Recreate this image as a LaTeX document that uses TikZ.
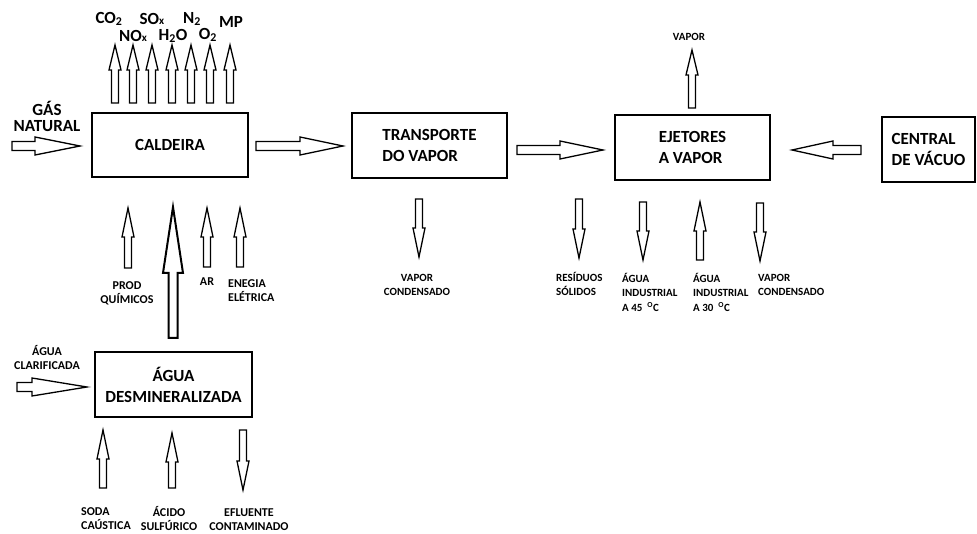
\documentclass[tikz,border=0pt]{standalone}
\usepackage{fontspec}
\setmainfont{Carlito}
\newcommand{\barr}[8][]{%
  \begin{scope}[shift={(#2,#3)},rotate=#4]
    \draw[arrowshape,#1] (0,-#7) -- (#5-#6,-#7) -- (#5-#6,-#8) -- (#5,0) -- (#5-#6,#8) -- (#5-#6,#7) -- (0,#7) -- cycle;
  \end{scope}}
\tikzset{
  arrowshape/.style={draw=black, line width=1.3pt, fill=white, line join=miter},
  bigarrow/.style={line width=2pt},
  box/.style={draw, line width=2pt, inner sep=0pt, font=\fontsize{17}{21}\selectfont\bfseries},
  big/.style={inner sep=0pt, font=\fontsize{17}{16}\selectfont\bfseries, align=center},
  lbl/.style={inner sep=0pt, font=\fontsize{12}{14}\selectfont\bfseries, align=center},
  sml/.style={inner sep=0pt, font=\fontsize{11}{14.5}\selectfont\bfseries, align=left},
}
\begin{document}
\begin{tikzpicture}[x=1pt,y=-1pt]
\useasboundingbox (0,0) rectangle (977,534);
% boxes
\node[box, minimum width=156pt, minimum height=64pt, align=center] (cald) at (170,145) {CALDEIRA};
\node[box, minimum width=155pt, minimum height=65pt, align=left] (transp) at (429.5,145.5) {TRANSPORTE\\DO VAPOR};
\node[box, minimum width=155pt, minimum height=65pt, align=left] (ejet) at (692.5,147.5) {EJETORES\\A VAPOR};
\node[box, minimum width=93pt, minimum height=65pt, align=left] (central) at (928.5,149.5) {CENTRAL\\DE VÁCUO};
\node[box, minimum width=157pt, minimum height=65pt, align=center] (agua) at (173.5,384.5) {ÁGUA\\DESMINERALIZADA};
% emission arrows
\foreach \xx in {115,133,152,172,191,210,230} {\barr{\xx}{103}{90}{58}{25}{3.5}{6}}
\node[big] (co2) at (109,19) {CO\textsubscript{2}};
\node[big] (sox) at (152,19) {SO{\fontsize{11}{11}\selectfont x}};
\node[big] (n2) at (192,19) {N\textsubscript{2}};
\node[big] (mp) at (231,22) {MP};
\node[big] (nox) at (133,36) {NO{\fontsize{11}{11}\selectfont x}};
\node[big] (h2o) at (173,36) {H\textsubscript{2}O};
\node[big] (o2) at (208,35) {O\textsubscript{2}};
% gas natural
\node[big] (gas) at (47,116) {GÁS\\NATURAL};
\barr{12}{146}{0}{68}{45}{4.5}{9}
% horizontal flows
\barr{256}{146}{0}{87}{43}{4.5}{9}
\barr{517}{150}{0}{86}{43}{4.5}{9}
\barr{861}{150}{180}{69}{41}{4.5}{9}
% vapor top
\barr{692}{108}{90}{58}{25}{3.5}{6}
\node[sml] (vap) at (689,37) {VAPOR};
% right-bottom arrows
\barr{419}{199}{-90}{58}{29}{3.5}{6}
\barr{579}{199}{-90}{59}{29}{3.5}{6}
\barr{643}{202}{-90}{58}{29}{3.5}{6}
\barr{700}{260}{90}{58}{29}{3.5}{6}
\barr{760}{203}{-90}{58}{29}{3.5}{6}
\node[sml, align=center] (vc1) at (417,285) {VAPOR\\CONDENSADO};
\node[sml, anchor=west] (res) at (556,284) {RESÍDUOS\\SÓLIDOS};
\node[sml, anchor=west] (a45) at (622,292) {ÁGUA\\INDUSTRIAL\\A 45\ \ \textsuperscript{O}C};
\node[sml, anchor=west] (a30) at (693,292) {ÁGUA\\INDUSTRIAL\\A 30\ \ \textsuperscript{O}C};
\node[sml, anchor=west] (vc2) at (758,285) {VAPOR\\CONDENSADO};
% caldeira inputs
\barr{128}{268}{90}{60}{29}{3.5}{6}
\barr[bigarrow]{173}{338}{90}{131}{66}{4.5}{10}
\barr{207}{267}{90}{59}{29}{3.5}{6}
\barr{240}{267}{90}{59}{29}{3.5}{6}
\node[lbl] (prod) at (127,293) {PROD\\QUÍMICOS};
\node[lbl] (ar) at (207,282) {AR};
\node[lbl, anchor=west, align=left] (ener) at (228,291) {ENEGIA\\ELÉTRICA};
% agua clarificada
\node[lbl] (clar) at (47,358) {ÁGUA\\CLARIFICADA};
\barr{17}{387}{0}{70}{55}{4.5}{9}
% agua desmineralizada inputs/outputs
\barr{103}{488}{90}{58}{29}{3.5}{6}
\barr{172}{488}{90}{55}{29}{3.5}{6}
\barr{243}{430}{-90}{60}{29}{3.5}{6}
\node[lbl, anchor=west, align=left] (soda) at (81,519) {SODA\\CAÚSTICA};
\node[lbl] (acido) at (169,519) {ÁCIDO\\SULFÚRICO};
\node[lbl] (eflu) at (249,520) {EFLUENTE\\CONTAMINADO};
\end{tikzpicture}
\end{document}
